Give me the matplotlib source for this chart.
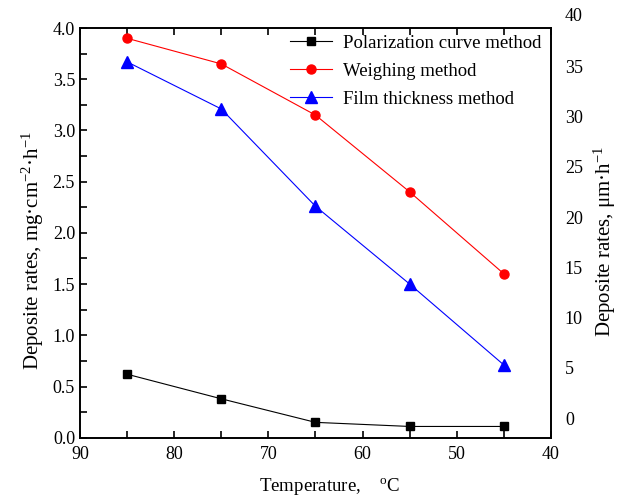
import matplotlib
matplotlib.use("Agg")
import matplotlib.pyplot as plt
from matplotlib.ticker import MultipleLocator, FormatStrFormatter
from matplotlib.transforms import offset_copy

plt.rcParams['font.family'] = ['Liberation Serif', 'DejaVu Serif']
plt.rcParams['mathtext.fontset'] = 'custom'
plt.rcParams['mathtext.rm'] = 'Liberation Serif'
plt.rcParams['mathtext.it'] = 'Liberation Serif:italic'

temperature = [85, 75, 65, 55, 45]
polarization = [0.62, 0.38, 0.15, 0.11, 0.11]
weighing = [3.90, 3.65, 3.15, 2.40, 1.60]
film = [3.67, 3.21, 2.26, 1.50, 0.71]
right_labels = [0, 5, 10, 15, 20, 25, 30, 35]

fig = plt.figure(figsize=(6.21, 5.01), dpi=100)
ax = fig.add_axes([0.1288, 0.1263, 0.7585, 0.8177])

ax.plot(temperature, polarization, color='black', marker='s', markersize=5.5, lw=0.8,
        label='Polarization curve method')
ax.plot(temperature, weighing, color='red', marker='o', markersize=6.5, lw=0.8,
        label='Weighing method')
ax.plot(temperature, film, color='blue', marker='^', markersize=8.5, lw=0.8,
        label='Film thickness method')

ax.set_xlim(90, 40)
ax.set_ylim(0, 4.0)
ax.xaxis.set_major_locator(MultipleLocator(10))
ax.xaxis.set_minor_locator(MultipleLocator(5))
ax.yaxis.set_major_locator(MultipleLocator(0.5))
ax.yaxis.set_minor_locator(MultipleLocator(0.25))
ax.yaxis.set_major_formatter(FormatStrFormatter('%.1f'))
ax.tick_params(which='both', direction='in', top=True, right=True, labelsize=13,
               width=1.2, length=5)
ax.tick_params(axis='x', pad=6)
for s in ax.spines.values():
    s.set_linewidth(1.4)

ax.set_xlabel('Temperature,    $^{\\mathrm{o}}$C', fontsize=13.6)
ax.xaxis.set_label_coords(0.529, -0.094)
ax.set_ylabel('Deposite rates, mg·cm$^{-2}$·h$^{-1}$', fontsize=15)
ax.yaxis.set_label_coords(-0.072, 0.458)

ax2 = ax.twinx()
ax2.set_ylim(-1.96, 38.81)
ax2.set_yticks(right_labels)
ax2.tick_params(axis='y', length=0, labelsize=13, pad=10)
ax2.text(1.0, 40, '40', fontsize=13, va='center', ha='left', clip_on=False,
         transform=offset_copy(ax2.get_yaxis_transform(), fig=fig, x=10, y=0, units='points'))
ax2.set_ylabel('Deposite rates, μm·h$^{-1}$', fontsize=15)
ax2.yaxis.set_label_coords(1.087, 0.48)
for s in ax2.spines.values():
    s.set_visible(False)

ax.legend(loc='upper right', bbox_to_anchor=(0.994, 1.0), frameon=False,
          fontsize=13.5, handlelength=2.25, borderaxespad=0.25,
          labelspacing=0.58, handletextpad=0.6, borderpad=0.1)

fig.savefig('out.png', dpi=100)
